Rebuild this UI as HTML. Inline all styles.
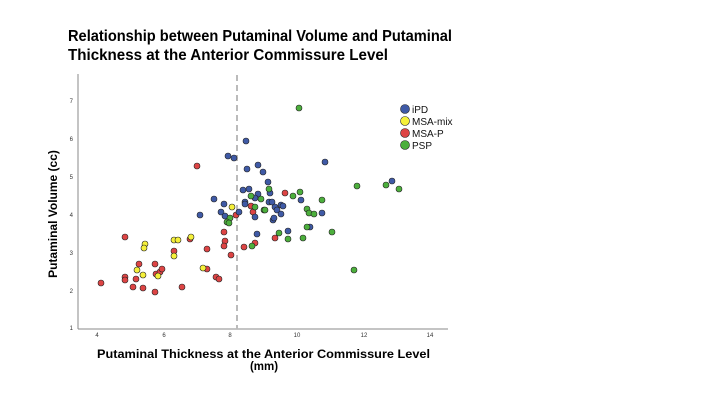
<!DOCTYPE html>
<html><head><style>
body{margin:0;background:#fff;width:720px;height:405px;overflow:hidden;font-family:"Liberation Sans",sans-serif}
</style></head><body>
<svg width="720" height="405" xmlns="http://www.w3.org/2000/svg" font-family="Liberation Sans, sans-serif">
<text x="68" y="41" font-size="15.5" font-weight="bold" fill="#000" textLength="384" lengthAdjust="spacingAndGlyphs">Relationship between Putaminal Volume and Putaminal</text>
<text x="68" y="60" font-size="15.5" font-weight="bold" fill="#000" textLength="320" lengthAdjust="spacingAndGlyphs">Thickness at the Anterior Commissure Level</text>
<line x1="78" y1="74" x2="78" y2="329" stroke="#888" stroke-width="1"/>
<line x1="78" y1="329" x2="448" y2="329" stroke="#888" stroke-width="1"/>
<line x1="237" y1="75" x2="237" y2="329" stroke="#bbb" stroke-width="2" stroke-dasharray="6,4"/>
<g font-size="6" fill="#333" text-anchor="end">
<text x="73" y="330">1</text><text x="73" y="293">2</text><text x="73" y="255">3</text><text x="73" y="217">4</text><text x="73" y="179">5</text><text x="73" y="141">6</text><text x="73" y="103">7</text>
</g>
<g font-size="6" fill="#333" text-anchor="middle">
<text x="97" y="337">4</text><text x="164" y="337">6</text><text x="230" y="337">8</text><text x="297" y="337">10</text><text x="364" y="337">12</text><text x="430" y="337">14</text>
</g>
<text transform="translate(57,214) rotate(-90)" font-size="12" font-weight="bold" text-anchor="middle">Putaminal Volume (cc)</text>
<text x="97" y="358" font-size="11.5" font-weight="bold" textLength="333" lengthAdjust="spacingAndGlyphs">Putaminal Thickness at the Anterior Commissure Level</text>
<text x="264" y="370" font-size="11.5" font-weight="bold" text-anchor="middle">(mm)</text>
<g stroke="#222" stroke-width="0.6" fill="#dd4444">
<circle cx="125" cy="237" r="3"/><circle cx="197" cy="166" r="3"/><circle cx="101" cy="283" r="3"/><circle cx="125" cy="277" r="3"/><circle cx="125" cy="280" r="3"/><circle cx="133" cy="287" r="3"/><circle cx="136" cy="279" r="3"/><circle cx="139" cy="264" r="3"/><circle cx="143" cy="288" r="3"/><circle cx="155" cy="264" r="3"/><circle cx="155" cy="292" r="3"/><circle cx="156" cy="274" r="3"/><circle cx="160" cy="272" r="3"/><circle cx="162" cy="269" r="3"/><circle cx="174" cy="251" r="3"/><circle cx="182" cy="287" r="3"/><circle cx="190" cy="239" r="3"/><circle cx="207" cy="249" r="3"/><circle cx="207" cy="269" r="3"/><circle cx="216" cy="277" r="3"/><circle cx="219" cy="279" r="3"/><circle cx="224" cy="232" r="3"/><circle cx="225" cy="241" r="3"/><circle cx="224" cy="246" r="3"/><circle cx="231" cy="255" r="3"/><circle cx="236" cy="215" r="3"/><circle cx="244" cy="247" r="3"/><circle cx="253" cy="212" r="3"/><circle cx="251" cy="206" r="3"/><circle cx="255" cy="243" r="3"/><circle cx="285" cy="193" r="3"/><circle cx="275" cy="238" r="3"/>
</g>
<g stroke="#222" stroke-width="0.6" fill="#f5f03a">
<circle cx="145" cy="244" r="3"/><circle cx="144" cy="248" r="3"/><circle cx="174" cy="240" r="3"/><circle cx="178" cy="240" r="3"/><circle cx="191" cy="237" r="3"/><circle cx="174" cy="256" r="3"/><circle cx="137" cy="270" r="3"/><circle cx="143" cy="275" r="3"/><circle cx="158" cy="276" r="3"/><circle cx="203" cy="268" r="3"/><circle cx="232" cy="207" r="3"/>
</g>
<g stroke="#222" stroke-width="0.6" fill="#3f5aa6">
<circle cx="246" cy="141" r="3"/><circle cx="228" cy="156" r="3"/><circle cx="234" cy="158" r="3"/><circle cx="247" cy="169" r="3"/><circle cx="258" cy="165" r="3"/><circle cx="263" cy="172" r="3"/><circle cx="214" cy="199" r="3"/><circle cx="224" cy="204" r="3"/><circle cx="200" cy="215" r="3"/><circle cx="221" cy="212" r="3"/><circle cx="225" cy="216" r="3"/><circle cx="239" cy="212" r="3"/><circle cx="243" cy="190" r="3"/><circle cx="249" cy="189" r="3"/><circle cx="258" cy="194" r="3"/><circle cx="255" cy="198" r="3"/><circle cx="245" cy="202" r="3"/><circle cx="245" cy="204" r="3"/><circle cx="255" cy="217" r="3"/><circle cx="257" cy="234" r="3"/><circle cx="325" cy="162" r="3"/><circle cx="268" cy="182" r="3"/><circle cx="270" cy="193" r="3"/><circle cx="269" cy="202" r="3"/><circle cx="272" cy="202" r="3"/><circle cx="275" cy="207" r="3"/><circle cx="277" cy="210" r="3"/><circle cx="281" cy="205" r="3"/><circle cx="283" cy="206" r="3"/><circle cx="281" cy="214" r="3"/><circle cx="273" cy="220" r="3"/><circle cx="274" cy="218" r="3"/><circle cx="288" cy="231" r="3"/><circle cx="301" cy="200" r="3"/><circle cx="322" cy="213" r="3"/><circle cx="310" cy="227" r="3"/><circle cx="392" cy="181" r="3"/>
</g>
<g stroke="#222" stroke-width="0.6" fill="#4caf3c">
<circle cx="251" cy="196" r="3"/><circle cx="261" cy="199" r="3"/><circle cx="255" cy="207" r="3"/><circle cx="230" cy="218" r="3"/><circle cx="227" cy="222" r="3"/><circle cx="229" cy="223" r="3"/><circle cx="252" cy="246" r="3"/><circle cx="264" cy="210" r="3"/><circle cx="299" cy="108" r="3"/><circle cx="357" cy="186" r="3"/><circle cx="386" cy="185" r="3"/><circle cx="399" cy="189" r="3"/><circle cx="354" cy="270" r="3"/><circle cx="332" cy="232" r="3"/><circle cx="322" cy="200" r="3"/><circle cx="300" cy="192" r="3"/><circle cx="293" cy="196" r="3"/><circle cx="307" cy="209" r="3"/><circle cx="309" cy="213" r="3"/><circle cx="314" cy="214" r="3"/><circle cx="307" cy="227" r="3"/><circle cx="303" cy="238" r="3"/><circle cx="288" cy="239" r="3"/><circle cx="279" cy="233" r="3"/><circle cx="265" cy="210" r="3"/><circle cx="269" cy="189" r="3"/>
</g>
<g stroke="#222" stroke-width="0.6">
<circle cx="405" cy="109" r="4.5" fill="#3f5aa6"/><circle cx="405" cy="121" r="4.5" fill="#f5f03a"/><circle cx="405" cy="133" r="4.5" fill="#dd4444"/><circle cx="405" cy="145" r="4.5" fill="#4caf3c"/>
</g>
<g font-size="10" fill="#111">
<text x="412" y="113">iPD</text><text x="412" y="125">MSA-mix</text><text x="412" y="137">MSA-P</text><text x="412" y="149">PSP</text>
</g>
</svg>
</body></html>
